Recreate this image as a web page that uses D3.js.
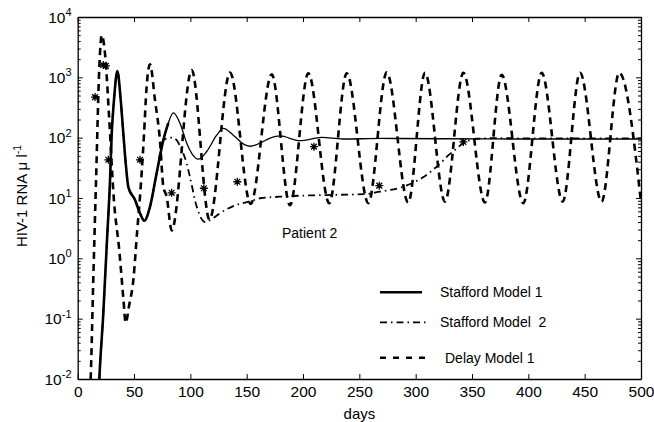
<!doctype html>
<html>
<head>
<script src="https://cdnjs.cloudflare.com/ajax/libs/d3/7.8.5/d3.min.js"></script>
<style>
  body { margin: 0; background: #fff; }
  text { font-family: "Liberation Sans", Arial, Helvetica, sans-serif; fill: #000; }
  .axis path, .axis line { stroke: #000; }
  .axis path { stroke-width: 1.3px; }
</style>
</head>
<body>
<svg width="654" height="422"></svg>
<script>
// tick labels
const xTicks = [0, 50, 100, 150, 200, 250, 300, 350, 400, 450, 500];
const yPowers = [-2, -1, 0, 1, 2, 3, 4];

// Stafford Model 1 (solid)
const s1Days = [18.5, 19.2, 22.7, 25.7, 28.7, 30.2, 32.2, 35.2, 38.2, 40.5, 42.9, 45, 50.9, 55.3, 59.1, 64.2, 70.1, 76, 80.4, 84.9, 90.8, 96.8, 101.2, 107, 114.5, 123.4, 129.3, 138.1, 148.5, 153, 161.8, 170.7, 179.6, 197, 216.6, 235, 270, 320, 400, 500];
const s1Vals = [0.005, 0.01, 0.12, 1.55, 20, 117, 417, 1270, 417, 117, 33, 15, 9.3, 5.6, 4.2, 7.2, 26, 91, 174, 257, 174, 81, 55, 44, 59, 110, 143, 110, 76, 72, 81, 98, 107, 89, 101, 95, 97, 96, 95, 95];

// Stafford Model 2 (dash-dot)
const s2Days = [18.5, 19.2, 22.7, 25.7, 28.7, 30.2, 32.2, 35.2, 38.2, 40.5, 42.9, 45, 50.9, 55.3, 59.1, 64.2, 70.1, 76, 80, 84, 88, 92.3, 96.8, 99.7, 105.6, 113, 120, 126.3, 141, 154, 161.8, 179.6, 191, 221, 255, 268, 289, 306.5, 314, 321.6, 327.5, 335, 342.3, 354, 370, 420, 500];
const s2Vals = [0.005, 0.01, 0.12, 1.55, 20, 117, 417, 1270, 417, 117, 33, 15, 9.3, 5.6, 4.2, 7.2, 26, 91, 98, 100, 90, 63, 37, 22, 7.2, 4.0, 4.6, 5.6, 7.7, 8.9, 9.9, 10.5, 10.8, 11.2, 11.6, 12.7, 15.4, 22, 28, 37, 48, 63, 81, 96, 98, 97, 97];

// Delay Model 1 (dashed)
const dmDays = [10.5, 11.5, 13.9, 16.3, 19.2, 21.3, 24.5, 28, 32, 37, 40.5, 42.6, 45.5, 49.4, 52.9, 55.3, 58.9, 61, 64.2, 68.6, 73, 76, 79, 83.4, 101.2, 117, 135.2, 153.5, 172.2, 188.4, 204.7, 223.3, 238.8, 258, 274.3, 293.4, 308.3, 326, 342.3, 361.5, 376.3, 395.5, 411.8, 430.5, 445.9, 465, 480.7, 500];
const dmVals = [0.004, 0.01, 0.5, 20, 1500, 5000, 2200, 200, 10, 1.3, 0.22, 0.085, 0.16, 0.44, 3.0, 10.5, 117, 630, 1650, 420, 91, 15.5, 10.5, 2.9, 1320, 4.4, 1200, 8.0, 1120, 7.6, 1170, 8.2, 1170, 8.2, 1210, 8.4, 1190, 8.7, 1190, 8.4, 1100, 8.2, 1190, 8.7, 1190, 8.7, 1190, 8.5];

// measured data (asterisks)
const obsDays = [15.4, 22.7, 25, 27.2, 55.3, 83.4, 112, 141.7, 209.7, 267.7, 342.3];
const obsVals = [470, 1600, 1550, 43, 43, 12.2, 14.5, 18.6, 71, 16, 85];

const svg = d3.select("svg");
const L = 77.7, R = 641, T = 17, B = 379;

const x = d3.scaleLinear().domain([0, 500]).range([L, R]);
const y = d3.scaleLog().domain([1e-2, 1e4]).range([B, T]);

const majors = yPowers.map(p => Math.pow(10, p));
const minors = [];
yPowers.slice(0, -1).forEach(p => {
  for (let k = 2; k <= 9; k++) minors.push(k * Math.pow(10, p));
});

svg.append("defs").append("clipPath").attr("id", "plotclip")
  .append("rect").attr("x", L).attr("y", T).attr("width", R - L).attr("height", B - T);

// axes
svg.append("g").attr("class", "axis")
  .attr("transform", `translate(0,${B})`)
  .call(d3.axisBottom(x).tickValues(xTicks).tickSizeInner(-5).tickSizeOuter(0).tickPadding(7))
  .call(g => g.selectAll("text").style("font-size", "15.5px"));

svg.append("g").attr("class", "axis")
  .attr("transform", `translate(0,${T})`)
  .call(d3.axisTop(x).tickValues(xTicks).tickSizeInner(-5).tickSizeOuter(0).tickFormat(""));

[["left", L, d3.axisLeft], ["right", R, d3.axisRight]].forEach(([side, px, ax]) => {
  svg.append("g").attr("class", "axis")
    .attr("transform", `translate(${px},0)`)
    .call(ax(y).tickValues(majors).tickSizeInner(-5).tickSizeOuter(0).tickFormat(""));
  svg.append("g").attr("class", "axis minor")
    .attr("transform", `translate(${px},0)`)
    .call(ax(y).tickValues(minors).tickSizeInner(-3).tickSizeOuter(0).tickFormat(""))
    .call(g => g.select(".domain").remove());
});

// y tick labels 10^p
const ylab = svg.append("g").selectAll("text").data(yPowers).enter().append("text")
  .attr("x", 71.5)
  .attr("y", p => y(Math.pow(10, p)) + 5.5)
  .attr("text-anchor", "end")
  .style("font-size", "15.5px");
ylab.append("tspan").text("10");
ylab.append("tspan").attr("dy", -6.5).style("font-size", "11px").text(p => p);

// curves
const line = d3.line().x(d => x(d[0])).y(d => y(d[1])).curve(d3.curveMonotoneX);
const plot = svg.append("g").attr("clip-path", "url(#plotclip)");

const s1 = d3.zip(s1Days, s1Vals);
plot.append("path").datum(s1.filter(d => d[0] <= 82))
  .attr("d", line).attr("fill", "none").attr("stroke", "#000").attr("stroke-width", 2.6);
plot.append("path").datum(s1.filter(d => d[0] >= 76))
  .attr("d", line).attr("fill", "none").attr("stroke", "#000").attr("stroke-width", 1.3);

plot.append("path").datum(d3.zip(s2Days, s2Vals))
  .attr("d", line).attr("fill", "none").attr("stroke", "#000")
  .attr("stroke-width", 1.8).attr("stroke-dasharray", "7,4,1.5,4");

plot.append("path").datum(d3.zip(dmDays, dmVals))
  .attr("d", line).attr("fill", "none").attr("stroke", "#000")
  .attr("stroke-width", 2.6).attr("stroke-dasharray", "7,5");

// matlab-style '*' marker: plus and cross
const starType = {
  draw(ctx, size) {
    const r = Math.sqrt(size) / 2, q = r * 0.72;
    ctx.moveTo(-r, 0); ctx.lineTo(r, 0);
    ctx.moveTo(0, -r); ctx.lineTo(0, r);
    ctx.moveTo(-q, -q); ctx.lineTo(q, q);
    ctx.moveTo(-q, q); ctx.lineTo(q, -q);
  }
};
plot.append("g").selectAll("path").data(d3.zip(obsDays, obsVals)).enter().append("path")
  .attr("transform", d => `translate(${x(d[0])},${y(d[1])})`)
  .attr("d", d3.symbol(starType, 64))
  .attr("fill", "none").attr("stroke", "#000").attr("stroke-width", 1.3);

// annotations
svg.append("text").attr("x", 282).attr("y", 238).style("font-size", "14px").text("Patient 2");

const legend = [
  {label: "Stafford Model 1", x1: 380, x2: 422, y: 292.3, tx: 440, w: 2.6, dash: null},
  {label: "Stafford Model \u00a02", x1: 380, x2: 426, y: 322.3, tx: 440, w: 1.8, dash: "7,4,1.5,4"},
  {label: "Delay Model 1", x1: 380, x2: 432, y: 357.8, tx: 445, w: 2.6, dash: "6,7"}
];
const lg = svg.append("g").selectAll("g").data(legend).enter().append("g");
lg.append("line").attr("x1", d => d.x1).attr("x2", d => d.x2)
  .attr("y1", d => d.y).attr("y2", d => d.y)
  .attr("stroke", "#000").attr("stroke-width", d => d.w)
  .attr("stroke-dasharray", d => d.dash);
lg.append("text").attr("x", d => d.tx).attr("y", d => d.y + 5)
  .style("font-size", "14px").text(d => d.label);

// axis titles
svg.append("text").attr("x", 359.4).attr("y", 419)
  .attr("text-anchor", "middle").style("font-size", "15px").text("days");

const yt = svg.append("text")
  .attr("transform", "translate(27,196) rotate(-90)")
  .attr("text-anchor", "middle").style("font-size", "15px");
yt.append("tspan").text("HIV-1 RNA \u03bc l");
yt.append("tspan").attr("dy", -6).style("font-size", "10.5px").text("-1");
</script>
</body>
</html>
